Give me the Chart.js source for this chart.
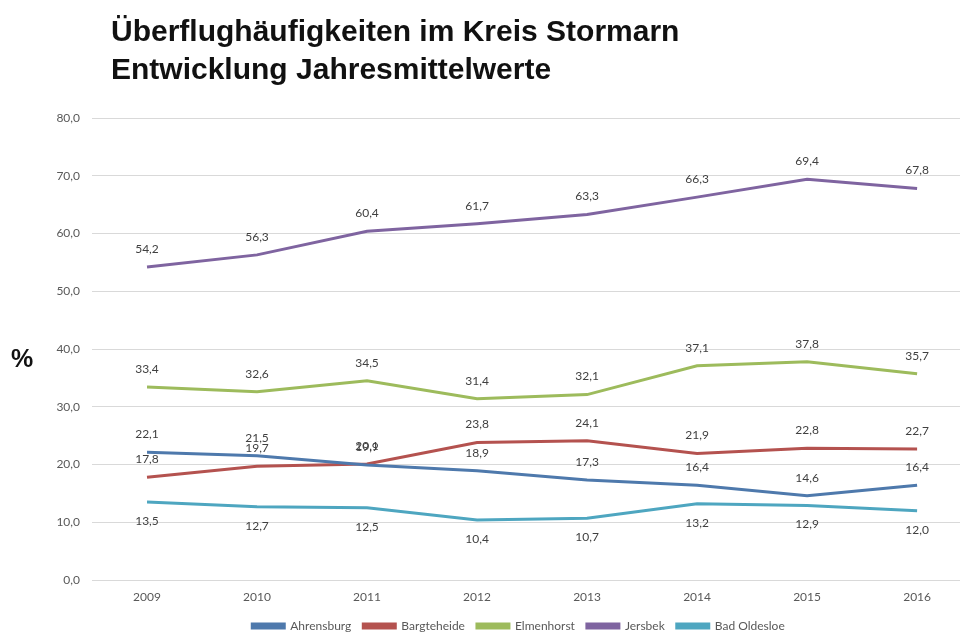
<!DOCTYPE html>
<html>
<head>
<meta charset="utf-8">
<script src="https://cdn.jsdelivr.net/npm/chart.js@4/dist/chart.umd.min.js"></script>
<style>
  html, body { margin: 0; padding: 0; background: #fff; }
  #wrap { position: relative; width: 960px; height: 632px; }
  #title { position: absolute; left: 111px; top: 12px; font-family: "Liberation Sans", Arial, sans-serif; font-weight: bold; font-size: 30px; line-height: 38px; color: #111; white-space: nowrap; }
  #ylab { position: absolute; left: 11px; top: 344px; font-family: "Liberation Sans", Arial, sans-serif; font-weight: bold; font-size: 25px; color: #111; }
  canvas { position: absolute; left: 0; top: 0; }
</style>
</head>
<body>
<div id="wrap">
  <canvas id="c" width="960" height="632"></canvas>
  <div id="title">Überflughäufigkeiten im Kreis Stormarn<br>Entwicklung Jahresmittelwerte</div>
  <div id="ylab">%</div>
</div>
<script>
const categories = ['2009', '2010', '2011', '2012', '2013', '2014', '2015', '2016'];
const ahrensburg  = [22.1, 21.5, 19.9, 18.9, 17.3, 16.4, 14.6, 16.4];
const bargteheide = [17.8, 19.7, 20.1, 23.8, 24.1, 21.9, 22.8, 22.7];
const elmenhorst  = [33.4, 32.6, 34.5, 31.4, 32.1, 37.1, 37.8, 35.7];
const jersbek     = [54.2, 56.3, 60.4, 61.7, 63.3, 66.3, 69.4, 67.8];
const badOldesloe = [13.5, 12.7, 12.5, 10.4, 10.7, 13.2, 12.9, 12.0];
const yTicks = [0, 10, 20, 30, 40, 50, 60, 70, 80];

const fmt = v => v.toFixed(1).replace('.', ',');
const pts = arr => arr.map((v, i) => ({ x: Number(categories[i]), y: v }));

const series = [
  { label: 'Ahrensburg',   data: ahrensburg,  color: '#4E79AC', pos: 'above' },
  { label: 'Bargteheide',  data: bargteheide, color: '#B4524F', pos: 'above' },
  { label: 'Elmenhorst',   data: elmenhorst,  color: '#9DBB5C', pos: 'above' },
  { label: 'Jersbek',      data: jersbek,     color: '#7F64A0', pos: 'above' },
  { label: 'Bad Oldesloe', data: badOldesloe, color: '#4EA6C0', pos: 'below' }
];

const valueLabels = {
  id: 'valueLabels',
  afterDatasetsDraw(chart) {
    const ctx = chart.ctx;
    ctx.save();
    ctx.font = '12px Lato, "Open Sans", sans-serif';
    ctx.fillStyle = '#404040';
    ctx.textAlign = 'center';
    ctx.textBaseline = 'middle';
    chart.data.datasets.forEach((ds, di) => {
      const meta = chart.getDatasetMeta(di);
      meta.data.forEach((el, i) => {
        const off = ds.labelPos === 'below' ? 19 : -18;
        ctx.fillText(fmt(ds.data[i].y), el.x, el.y + off);
      });
    });
    ctx.restore();
  }
};

const shiftLegend = {
  id: 'shiftLegend',
  afterLayout(chart) {
    const lg = chart.legend;
    const dx = (92 + 945) / 2 - (lg.left + lg.right) / 2;
    lg.left += dx; lg.right += dx;
    lg.top += 10; lg.bottom += 10;
    chart.scales.x.bottom += 16;
  }
};

new Chart(document.getElementById('c'), {
  type: 'line',
  data: {
    datasets: series.map(s => ({
      label: s.label,
      data: pts(s.data),
      borderColor: s.color,
      backgroundColor: s.color,
      borderWidth: 3,
      pointRadius: 0,
      pointHoverRadius: 0,
      tension: 0,
      labelPos: s.pos
    }))
  },
  options: {
    responsive: false,
    animation: false,
    events: [],
    layout: { padding: { top: 118, left: 0, right: 0, bottom: 0 } },
    scales: {
      x: {
        type: 'linear',
        min: 2008.5,
        max: 2016.39,
        grid: { display: false, drawTicks: false },
        border: { display: false },
        afterBuildTicks: s => { s.ticks = categories.map(c => ({ value: Number(c) })); },
        afterFit: s => { s.height = 18; },
        ticks: {
          padding: 10,
          color: '#595959',
          font: { family: 'Lato, "Open Sans", sans-serif', size: 12 },
          callback: v => String(v),
          maxRotation: 0,
          autoSkip: false
        }
      },
      y: {
        min: 0,
        max: 80,
        afterBuildTicks: s => { s.ticks = yTicks.map(v => ({ value: v })); },
        afterFit: s => { s.width = 92; },
        grid: { color: '#D9D9D9', lineWidth: 1, drawTicks: false },
        border: { display: false },
        ticks: {
          padding: 12,
          color: '#595959',
          font: { family: 'Lato, "Open Sans", sans-serif', size: 12 },
          callback: v => fmt(v)
        }
      }
    },
    plugins: {
      legend: {
        position: 'bottom',
        labels: {
          boxWidth: 32,
          boxHeight: 4,
          padding: 12,
          color: '#595959',
          font: { family: 'Lato, "Open Sans", sans-serif', size: 12 }
        }
      },
      tooltip: { enabled: false },
      title: { display: false }
    }
  },
  plugins: [valueLabels, shiftLegend]
});
</script>
</body>
</html>
